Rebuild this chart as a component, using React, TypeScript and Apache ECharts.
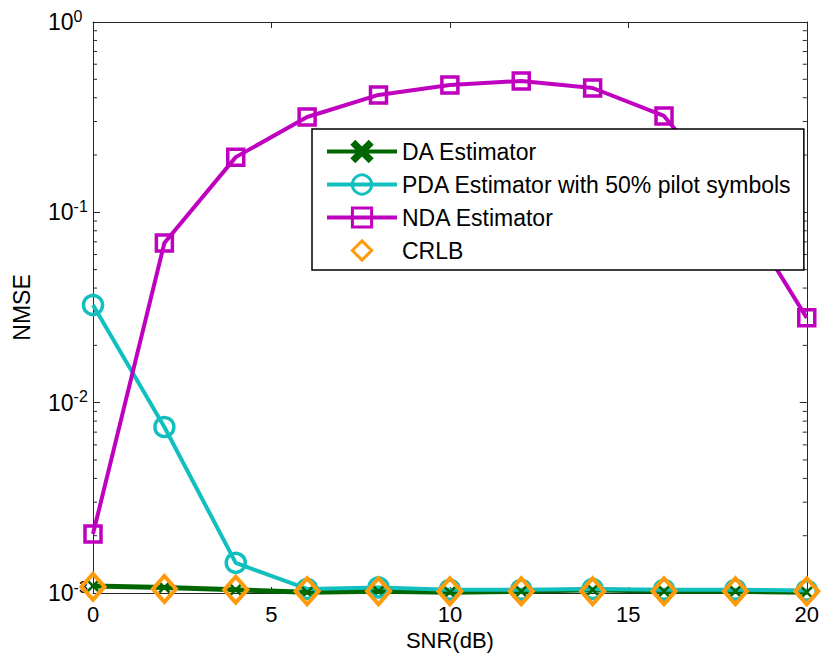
import React, { useEffect, useRef } from "react";
import * as echarts from "echarts";

const snr = [0, 2, 4, 6, 8, 10, 12, 14, 16, 18, 20];
const daValues = [0.00109, 0.00107, 0.00104, 0.00101, 0.00102, 0.00101, 0.00102, 0.00104, 0.00102, 0.00102, 0.00101];
const pdaValues = [0.0326, 0.00745, 0.00144, 0.00105, 0.00107, 0.00104, 0.00104, 0.00105, 0.00104, 0.00104, 0.00103];
const ndaValues = [0.00204, 0.069, 0.195, 0.317, 0.414, 0.467, 0.49, 0.45, 0.321, 0.113, 0.0279];
const crlbValues = [0.00108, 0.00105, 0.00104, 0.00102, 0.00102, 0.00102, 0.00102, 0.00102, 0.00102, 0.00102, 0.00102];
const seriesNames = ["DA Estimator", "PDA Estimator with 50% pilot symbols", "NDA Estimator", "CRLB"];
const xTicks = [0, 5, 10, 15, 20];
const decades = [0.001, 0.01, 0.1, 1];
const minorMultipliers = [2, 3, 4, 5, 6, 7, 8, 9];

const FONT = "'Liberation Sans', Arial, Helvetica, sans-serif";
const AXIS_COLOR = "#262626";
const X_MARK = "path://M0,1.5 L1.5,0 L5,3.5 L8.5,0 L10,1.5 L6.5,5 L10,8.5 L8.5,10 L5,6.5 L1.5,10 L0,8.5 L3.5,5 Z";

export default function App() {
  const ref = useRef<HTMLDivElement>(null);
  useEffect(() => {
    if (!ref.current) return;
    const chart = echarts.init(ref.current, null, { renderer: "svg" });
    const pairs = (vals: number[]) => snr.map((x, i) => [x, vals[i]]);
    const minorTicks: number[][] = [];
    decades.slice(0, 3).forEach((d) => minorMultipliers.forEach((m) => minorTicks.push([0, d * m])));

    const xAxisBase = {
      type: "value",
      min: 0,
      max: 20,
      interval: 5,
      axisLine: { show: true, onZero: false, lineStyle: { color: AXIS_COLOR, width: 1 } },
      axisTick: { show: true, inside: true, length: 6, lineStyle: { color: AXIS_COLOR } },
      splitLine: { show: false },
    };
    const yAxisBase = {
      type: "log",
      logBase: 10,
      min: 0.001,
      max: 1,
      axisLine: { show: true, onZero: false, lineStyle: { color: AXIS_COLOR, width: 1 } },
      axisTick: { show: true, inside: true, length: 7, lineStyle: { color: AXIS_COLOR } },
      splitLine: { show: false },
    };

    chart.setOption({
      animation: false,
      backgroundColor: "#ffffff",
      textStyle: { fontFamily: FONT },
      grid: { left: 93, right: 9, top: 22, bottom: 64, containLabel: false },
      legend: {
        show: true,
        z: 20,
        zlevel: 0,
        data: seriesNames,
        orient: "vertical",
        left: 312,
        top: 129,
        itemWidth: 70,
        itemHeight: 24,
        itemGap: 10,
        padding: [11, 12, 8, 13],
        borderColor: "#000000",
        borderWidth: 1.5,
        borderRadius: 0,
        backgroundColor: "#ffffff",
        lineStyle: { width: 4 },
        itemStyle: { borderWidth: 3 },
        textStyle: { fontSize: 23, lineHeight: 22, color: "#000000", fontFamily: FONT },
        selectedMode: false,
      },
      xAxis: [
        {
          ...xAxisBase,
          position: "bottom",
          name: "SNR(dB)",
          nameLocation: "middle",
          nameGap: 35,
          nameTextStyle: { fontSize: 22, color: "#000000", fontFamily: FONT },
          axisLabel: {
            show: true,
            margin: 10,
            fontSize: 22,
            color: "#000000",
            fontFamily: FONT,
            formatter: (v: number) => (xTicks.includes(v) ? String(v) : ""),
          },
        },
        {
          ...xAxisBase,
          position: "top",
          axisLabel: { show: false },
        },
      ],
      yAxis: [
        {
          ...yAxisBase,
          position: "left",
          name: "NMSE",
          nameLocation: "middle",
          nameGap: 60,
          nameTextStyle: { fontSize: 23, color: "#000000", fontFamily: FONT },
          axisLabel: {
            show: true,
            margin: 45,
            align: "left",
            color: "#000000",
            fontFamily: FONT,
            formatter: (v: number) => `{b|10}{s|${Math.round(Math.log10(v))}}`,
            rich: {
              b: { fontSize: 23, lineHeight: 22, color: "#000000", fontFamily: FONT },
              s: { fontSize: 16, padding: [0, 0, 12, 0], color: "#000000", fontFamily: FONT },
            },
          },
        },
        {
          ...yAxisBase,
          position: "right",
          axisLabel: { show: false },
        },
      ],
      series: [
        {
          type: "custom",
          name: "minorTicks",
          silent: true,
          clip: false,
          xAxisIndex: 0,
          yAxisIndex: 0,
          encode: { x: 0, y: 1 },
          data: minorTicks,
          renderItem: (params: any, api: any) => {
            const v = api.value(1);
            const l = api.coord([0, v]);
            const r = api.coord([20, v]);
            return {
              type: "group",
              children: [
                { type: "line", shape: { x1: l[0], y1: l[1], x2: l[0] + 4, y2: l[1] }, style: { stroke: AXIS_COLOR, lineWidth: 1 } },
                { type: "line", shape: { x1: r[0] - 4, y1: r[1], x2: r[0], y2: r[1] }, style: { stroke: AXIS_COLOR, lineWidth: 1 } },
              ],
            };
          },
          z: 1,
        },
        {
          type: "line",
          name: seriesNames[0],
          data: pairs(daValues),
          symbol: X_MARK,
          symbolSize: 12,
          itemStyle: { color: "#006600", borderColor: "#006600", borderWidth: 0 },
          lineStyle: { color: "#006600", width: 5 },
          z: 2,
        },
        {
          type: "line",
          name: seriesNames[1],
          data: pairs(pdaValues),
          symbol: "circle",
          symbolSize: 19,
          showAllSymbol: true,
          itemStyle: { color: "rgba(255,255,255,0)", borderColor: "#12BFBF", borderWidth: 3.5 },
          lineStyle: { color: "#12BFBF", width: 4 },
          z: 2,
        },
        {
          type: "line",
          name: seriesNames[2],
          data: pairs(ndaValues),
          symbol: "rect",
          symbolSize: 16,
          itemStyle: { color: "rgba(255,255,255,0)", borderColor: "#BF00BF", borderWidth: 3.5 },
          lineStyle: { color: "#BF00BF", width: 4 },
          z: 2,
        },
        {
          type: "line",
          name: seriesNames[3],
          data: pairs(crlbValues),
          symbol: "diamond",
          symbolSize: [23, 26],
          itemStyle: { color: "rgba(255,255,255,0)", borderColor: "#FF9A0A", borderWidth: 4 },
          lineStyle: { color: "#FF9A0A", width: 0, opacity: 0 },
          z: 2,
        },
      ],
    });
    return () => chart.dispose();
  }, []);
  return (
    <div
      ref={ref}
      style={{ position: "fixed", left: 0, top: 0, width: 822, height: 657, background: "#fff" }}
    />
  );
}
